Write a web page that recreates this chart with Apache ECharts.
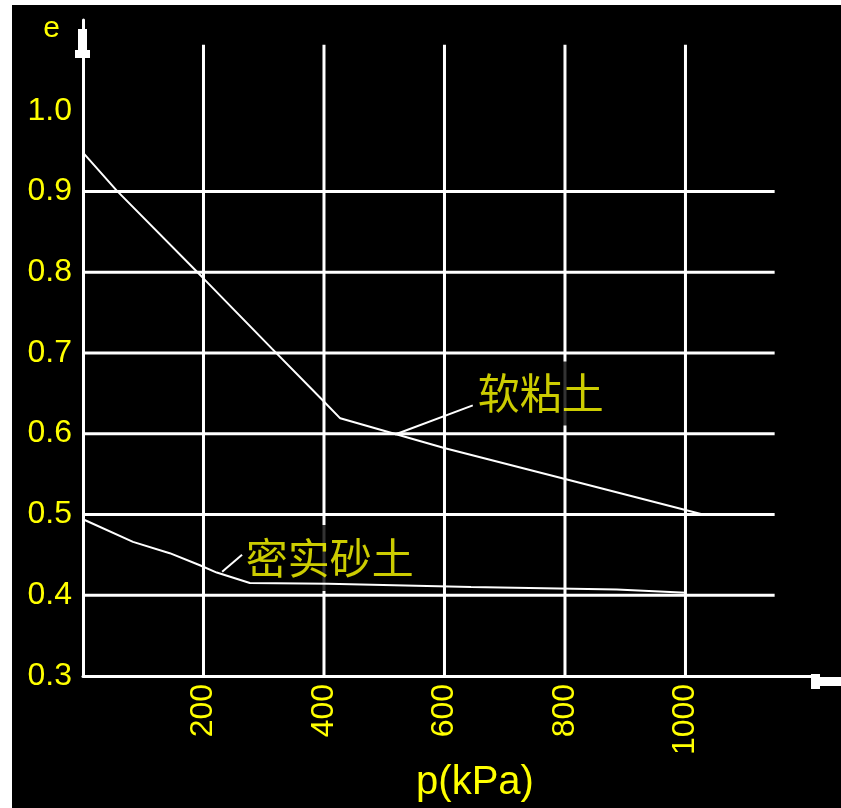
<!DOCTYPE html>
<html>
<head>
<meta charset="utf-8">
<script src="https://cdn.jsdelivr.net/npm/echarts@6/dist/echarts.min.js"></script>
<style>
html,body{margin:0;padding:0;background:#fff;width:841px;height:808px;overflow:hidden}
#chart{position:absolute;left:12px;top:5px;width:829px;height:803px;background:#000}
</style>
</head>
<body>
<div id="chart"></div>
<script>
// ---- data (p in kPa, e = void ratio) ----
const softClayP = [0, 56, 199, 314, 397, 427, 601, 805, 1029];
const softClayE = [0.948, 0.901, 0.793, 0.705, 0.642, 0.619, 0.582, 0.543, 0.500];
const denseSandP = [0, 83, 144, 194, 222, 277, 407, 644, 886, 1001];
const denseSandE = [0.494, 0.466, 0.452, 0.437, 0.428, 0.415, 0.414, 0.410, 0.407, 0.403];

const xTickLabels = [200, 400, 600, 800, 1000];
const yTickLabels = [0.3, 0.4, 0.5, 0.6, 0.7, 0.8, 0.9, 1.0];
const hGridValues = [0.4, 0.5, 0.6, 0.7, 0.8, 0.9];
const vGridValues = [200, 400, 600, 800, 1000];
const hGridEndP = 1148;
const vGridTopE = 1.0816;
const xMin = 0, xMax = 1215;
const yMin = 0.3, yMax = 1.1123;

// annotations (data coordinates)
const softClayName = '软粘土';
const softClayLeader = [[518, 0.599], [647, 0.635]];
const softClayLabelAt = [651, 0.6497];
const denseSandName = '密实砂土';
const denseSandLeader = [[231, 0.429], [264, 0.450]];
const denseSandLabelAt = [266, 0.446];

const FONT = "'Liberation Sans', 'Noto Sans CJK SC', sans-serif";
const CJK = "'Noto Sans CJK SC', sans-serif";
const YELLOW = '#ffff00';

const pairs = (xs, ys) => xs.map((x, i) => [x, ys[i]]);
const lineSeries = (data, width, z) => ({
  type: 'line', data: data, z: z, symbol: 'none', silent: true,
  lineStyle: { color: '#fff', width: width }, smooth: false
});

const series = [];
hGridValues.forEach(v => series.push(lineSeries([[xMin, v], [hGridEndP, v]], 3, 1)));
vGridValues.forEach(v => series.push(lineSeries([[v, yMin], [v, vGridTopE]], 3, 1)));

series.push({
  type: 'scatter', z: 2, silent: true, symbolSize: 1,
  itemStyle: { color: 'rgba(0,0,0,0)' },
  data: [
    { name: softClayName, value: softClayLabelAt,
      label: { padding: [3, 4, 19, 2] } },
    { name: denseSandName, value: denseSandLabelAt,
      label: { padding: [2, 4, 22, 2] } }
  ],
  label: {
    show: true, position: 'right', distance: 0,
    formatter: p => p.name,
    color: YELLOW, fontSize: 42, fontFamily: CJK,
    backgroundColor: '#000', lineHeight: 42
  }
});

series.push(lineSeries(pairs(softClayP, softClayE), 2, 3));
series.push(lineSeries(pairs(denseSandP, denseSandE), 2, 3));
series.push(lineSeries(softClayLeader, 2, 3));
series.push(lineSeries(denseSandLeader, 2, 3));

const chart = echarts.init(document.getElementById('chart'));
chart.setOption({
  backgroundColor: '#000',
  animation: false,
  grid: { left: 71, right: 26, top: 15, bottom: 126 },
  xAxis: {
    type: 'value', min: xMin, max: xMax,
    axisLine: { show: true, onZero: false, lineStyle: { color: '#fff', width: 3 } },
    axisTick: { show: false },
    splitLine: { show: false },
    axisLabel: {
      customValues: xTickLabels, rotate: 90, margin: 8,
      color: YELLOW, fontSize: 32, fontFamily: FONT,
      formatter: v => String(v)
    },
    name: 'p(kPa)', nameLocation: 'middle', nameGap: 93,
    nameTextStyle: { color: YELLOW, fontSize: 40, fontFamily: FONT,
      verticalAlign: 'middle', padding: [0, 0, 0, 52] }
  },
  yAxis: {
    type: 'value', min: yMin, max: yMax,
    axisLine: { show: true, onZero: false, lineStyle: { color: '#fff', width: 3 } },
    axisTick: { show: false },
    splitLine: { show: false },
    axisLabel: {
      customValues: yTickLabels, margin: 11,
      color: YELLOW, fontSize: 32, fontFamily: FONT,
      formatter: v => Number(v).toFixed(1)
    },
    name: 'e', nameLocation: 'end', nameGap: -9,
    nameTextStyle: { color: YELLOW, fontSize: 30, fontFamily: FONT,
      align: 'right', verticalAlign: 'middle', padding: [0, 23, 0, 0] }
  },
  graphic: [
    { type: 'rect', shape: { x: 66, y: 24, width: 9, height: 21 }, style: { fill: '#fff' }, silent: true },
    { type: 'rect', shape: { x: 63, y: 45, width: 15, height: 8 }, style: { fill: '#fff' }, silent: true },
    { type: 'rect', shape: { x: 799, y: 669, width: 9, height: 15 }, style: { fill: '#fff' }, silent: true },
    { type: 'rect', shape: { x: 808, y: 672, width: 21, height: 9 }, style: { fill: '#fff' }, silent: true }
  ],
  series: series
});
</script>
</body>
</html>
